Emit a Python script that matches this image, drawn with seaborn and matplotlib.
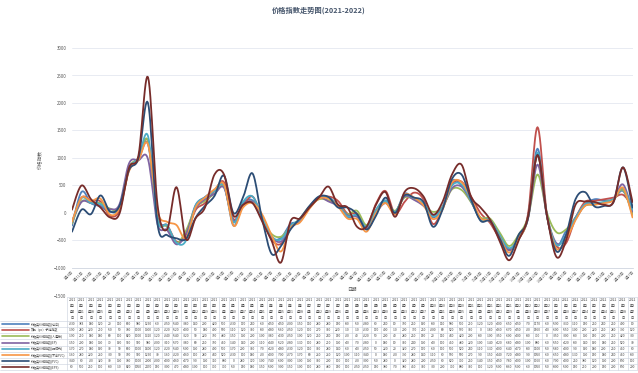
#price index trend chart (2021-2022) with a data table underneath
import numpy as np
import pandas as pd
import seaborn as sns
from matplotlib import pyplot as plt
from matplotlib import transforms
from matplotlib.lines import Line2D

# ---- data ----
dates = ['2021/1/4', '2021/1/11', '2021/1/18', '2021/1/25', '2021/2/1', '2021/2/8', '2021/2/22',
         '2021/3/1', '2021/3/8', '2021/3/15', '2021/3/22', '2021/3/29', '2021/4/6', '2021/4/12',
         '2021/4/19', '2021/4/26', '2021/5/6', '2021/5/10', '2021/5/17', '2021/5/24', '2021/5/31',
         '2021/6/7', '2021/6/15', '2021/6/21', '2021/6/28', '2021/7/5', '2021/7/12', '2021/7/19',
         '2021/7/26', '2021/8/2', '2021/8/9', '2021/8/16', '2021/8/23', '2021/8/30', '2021/9/6',
         '2021/9/13', '2021/9/22', '2021/9/27', '2021/10/8', '2021/10/11', '2021/10/18', '2021/10/25',
         '2021/11/1', '2021/11/8', '2021/11/15', '2021/11/22', '2021/11/29', '2021/12/6', '2021/12/13',
         '2021/12/20', '2021/12/27', '2022/1/4', '2022/1/10', '2022/1/17', '2022/1/24', '2022/2/7',
         '2022/2/14', '2022/2/21', '2022/2/28', '2022/3/7']

names = ['树脂类价格指数(综合)', '双酚（pc）子链指数', '树脂类价格指数(人造板)', '树脂类价格指数(EP)',
         '树脂类价格指数(钢结构)', '树脂类价格指数(不含PVC)',
         '树脂类价格指数(PVC)', '树脂类价格指数(EPS)']

s1 = [-230, 383, 180, 120, 20, 110, 800, 980, 1250, -60, -250, -540, -380, 140, 290, 420, 500, -230, 170, 230,
      -60, -450, -450, -200, -150, 110, 280, 280, 150, -80, -50, -280, 60, 230, 10, 350, 250, 160, -80, 110,
      580, 500, 210, -120, -120, -400, -650, -450, -70, 1170, -60, -590, -330, -110, 150, 250, 230, 250, 400, 10]
s2 = [-190, 280, 220, 210, -50, 50, 780, 1000, 1300, -120, -220, -520, -400, 50, 180, 400, 560, -110, 120, 300,
      -80, -480, -560, -250, -120, 100, 270, 300, 220, -10, -10, -230, 170, 400, -10, 200, 370, 250, -200, 80,
      520, 570, 300, 0, -180, -460, -670, -450, -20, 1560, -40, -600, -550, -100, 200, 220, 250, 280, 330, 120]
s3 = [-190, 210, 180, 180, 80, 100, 820, 1000, 1310, -120, -240, -540, -320, 90, 220, 350, 480, -150, 130, 200,
      -100, -380, -430, -250, -100, 120, 250, 230, 150, -20, 40, -220, 50, 200, 40, 280, 250, 150, 20, 110,
      430, 420, 200, -80, -100, -350, -600, -400, -80, 700, 0, -350, -300, -80, 130, 150, 200, 250, 420, -30]
s4 = [-150, 200, 180, 130, 70, 160, 900, 960, 980, -200, -310, -570, -380, 80, 250, 350, 460, -140, 140, 200,
      -110, -440, -520, -280, -130, 100, 280, 210, 130, -40, -70, -280, 0, 180, 10, 300, 240, 130, -40, 100,
      450, 480, 220, -100, -140, -420, -680, -480, -100, 880, -60, -550, -420, -80, 140, 160, 180, 250, 520, 30]
s5 = [-170, 270, 180, 160, 30, 90, 800, 1000, 1400, -120, -220, -540, -500, 130, 280, 400, 500, -170, 200, 300,
      -70, -420, -480, -230, -120, 110, 300, 280, 140, -60, -40, -250, 50, 220, 20, 320, 270, 170, -60, 100,
      500, 520, 230, -110, -130, -400, -640, -470, -80, 1100, -50, -580, -400, -90, 160, 180, 200, 250, 450, 60]
s6 = [-160, 280, 220, 260, -30, 90, 760, 960, 1250, 30, -160, -220, -460, 100, 280, 430, 520, -230, 100, 180,
      -20, -400, -700, -270, -170, 80, 260, 260, 120, -100, -110, -340, 0, 180, -20, 330, 280, 140, -110, 60,
      550, 560, 270, -90, -150, -440, -720, -480, -90, 1050, -60, -650, -480, -130, 130, 150, 180, 230, 460, -80]
s7 = [-340, 60, -20, 320, 30, 130, 780, 1000, 2000, -200, -400, -460, -470, -90, 130, 310, 680, 0, 280, 720,
      -100, -740, -600, -300, -100, 130, 300, 290, 100, 100, -20, -300, -50, 280, 0, 320, 280, 200, -250, 60,
      620, 700, 250, -140, -150, -450, -780, -400, -100, 1060, -60, -700, -400, 250, 380, 120, 130, 200, 830, 100]
s8 = [60, 500, 250, 100, -80, -10, 820, 1050, 2470, 150, -300, 470, -480, -100, 100, 700, 700, -50, 150, 180,
      -150, -500, -900, -150, -100, 100, 280, 480, 150, 100, -250, -250, 150, 380, -70, 380, 450, 300, -30, 200,
      700, 880, 300, 100, -120, -500, -860, -500, -60, 1050, -50, -800, -500, 150, 210, 200, 150, 200, 830, 200]
series = [s1, s2, s3, s4, s5, s6, s7, s8]

# excel 2010 default line colours
colors = ['#4F81BD', '#C0504D', '#9BBB59', '#8064A2', '#4BACC6', '#F79646', '#2C4D75', '#772C2A']


def smooth(vals, k=12):
    """excel style smoothed line: bezier through the points, control points from the neighbours"""
    y = np.asarray(vals, dtype=float)
    x = np.arange(len(y), dtype=float)
    py = np.r_[y[0], y, y[-1]]
    px = np.r_[x[0], x, x[-1]]
    t = np.linspace(0, 1, k, endpoint=False)
    xs, ys = [], []
    for i in range(len(y) - 1):
        for p, out in ((px, xs), (py, ys)):
            p0, p1, p2, p3 = p[i], p[i + 1], p[i + 2], p[i + 3]
            c1 = p1 + (p2 - p0) / 6
            c2 = p2 - (p3 - p1) / 6
            out.append((1 - t) ** 3 * p1 + 3 * (1 - t) ** 2 * t * c1 + 3 * (1 - t) * t ** 2 * c2 + t ** 3 * p2)
    xs.append([x[-1]])
    ys.append([y[-1]])
    return np.concatenate(xs), np.concatenate(ys)


parts = []
for name, vals in zip(names, series):
    xs, ys = smooth(vals)
    parts.append(pd.DataFrame({'x': xs, 'value': ys, 'series': name}))
df = pd.concat(parts, ignore_index=True)

# ---- figure ----
sns.set_style('white')
plt.rcParams['font.family'] = ['Noto Sans CJK SC', 'DejaVu Sans']

W, H = 638, 373
fig = plt.figure(figsize=(W / 100, H / 100), dpi=100)
ax = fig.add_axes([72 / W, 1 - 295.5 / H, (632.5 - 72) / W, (295.5 - 48) / H])

sns.lineplot(data=df, x='x', y='value', hue='series', hue_order=names, palette=colors,
             sort=False, estimator=None, legend=False, lw=1.3, ax=ax)

n = len(dates)
ax.set_xlim(0, n - 1)
ax.set_ylim(-1500, 3000)
ax.set_yticks(range(-1500, 3001, 500))
ax.yaxis.grid(True, color='#e4e8f0', lw=0.6)
ax.xaxis.grid(False)
for sp in ['top', 'right', 'left']:
    ax.spines[sp].set_visible(False)
ax.spines['bottom'].set_position(('data', -1000))
ax.spines['bottom'].set_color('#d3d8e2')
ax.spines['bottom'].set_linewidth(0.6)

ticklabels = [f"{int(d.split('/')[1])}月{int(d.split('/')[2])}日" for d in dates]
ax.set_xticks(range(n))
ax.set_xticklabels(ticklabels, rotation=45, ha='right', rotation_mode='anchor', fontsize=2.6, color='#595959')
ax.tick_params(axis='x', length=0, pad=1.5)
ax.tick_params(axis='y', length=0, labelsize=3.2, labelcolor='#595959', pad=4)

ax.set_xlabel('日期', fontsize=3.4, color='#595959')
ax.xaxis.set_label_coords(0.5, (295.5 - 287) / 247.5)
ax.set_ylabel('价格指数', fontsize=3.4, color='#595959')
ax.yaxis.set_label_coords(-0.052, 0.55)

fig.text(0.5, 1 - 10 / H, '价格指数走势图(2021-2022)', ha='center', va='center',
         fontsize=5.2, fontweight='bold', color='#44546A')

# ---- data table ----
trans = transforms.blended_transform_factory(ax.transData, fig.transFigure)
grid_c = '#c9d0dc'
head_top, head_bot, row_h = 297, 321, 6.15
table_bot = head_bot + row_h * len(names)

for i, d in enumerate(dates):
    y, m, dd = d.split('/')
    fig.text(i, 1 - 309 / H, f"{y}\n年{m}\n月{dd}\n日", transform=trans, ha='center', va='center',
             fontsize=2.3, linespacing=1.75, color='#404040')
for i in range(n + 1):
    fig.add_artist(Line2D([i - 0.5, i - 0.5], [1 - head_top / H, 1 - table_bot / H],
                          transform=trans, color=grid_c, lw=0.4))
for yy in [head_top, head_bot] + [head_bot + row_h * (r + 1) for r in range(len(names))]:
    x0 = 67 / W if yy == head_top else 0
    fig.add_artist(Line2D([x0, 637 / W], [1 - yy / H, 1 - yy / H], transform=fig.transFigure,
                          color=grid_c, lw=0.4))

for r, (name, vals, c) in enumerate(zip(names, series, colors)):
    yc = 1 - (head_bot + row_h * (r + 0.5)) / H
    fig.add_artist(Line2D([2 / W, 29 / W], [yc, yc], transform=fig.transFigure, color=c, lw=1.2))
    fig.text(31 / W, yc, name, ha='left', va='center', fontsize=2.2, color='#404040')
    for i, v in enumerate(vals):
        fig.text(i, yc, str(v), transform=trans, ha='center', va='center', fontsize=2.3, color='#404040')

fig.savefig('out.png', dpi=100)
